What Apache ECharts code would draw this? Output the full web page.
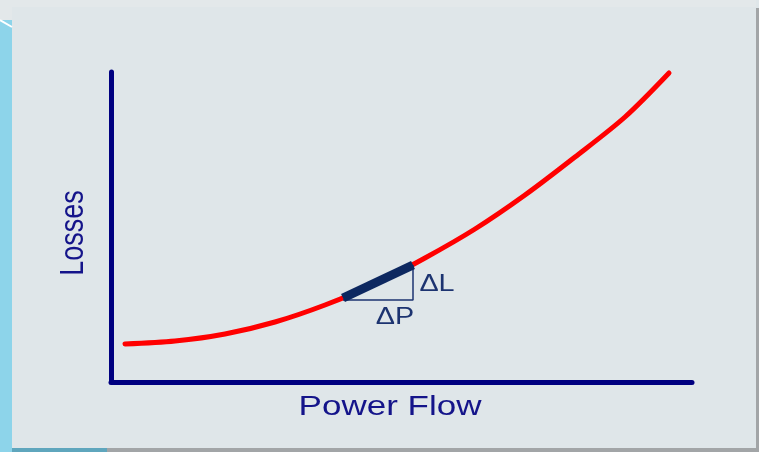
<!DOCTYPE html>
<html>
<head>
<meta charset="utf-8">
<script src="https://cdn.jsdelivr.net/npm/echarts@6/dist/echarts.min.js"></script>
<style>
  html, body { margin: 0; padding: 0; background: #dfe6e9; }
  #main { width: 759px; height: 452px; }
</style>
</head>
<body>
<div id="main"></div>
<script>
// curve (units: px from the axes origin)
const powerFlow = [14, 64, 114, 164, 214, 264, 314, 364, 414, 464, 514, 558];
const losses = [38, 41, 48, 60, 77, 98, 124, 153, 187, 225, 265, 309];
// highlighted slope piece + its triangle
const deltaP = [232, 302];
const deltaL = [84, 117];
const triBase = 82;

const navy = '#000080';
const textNavy = '#14148a';

const chart = echarts.init(document.getElementById('main'));

chart.setOption({
  backgroundColor: '#dfe6e9',
  animation: false,
  grid: { left: 111, top: 72, right: 67, bottom: 70 },
  xAxis: {
    type: 'value', min: 0, max: 581,
    axisLine: { lineStyle: { color: navy, width: 5, cap: 'round' } },
    axisTick: { show: false }, axisLabel: { show: false }, splitLine: { show: false }
  },
  yAxis: {
    type: 'value', min: 0, max: 310,
    axisLine: { show: true, lineStyle: { color: navy, width: 5, cap: 'round' } },
    axisTick: { show: false }, axisLabel: { show: false }, splitLine: { show: false }
  },
  series: [
    {
      // losses curve
      type: 'line', smooth: 0.3, symbol: 'none', z: 2,
      data: powerFlow.map((p, i) => [p, losses[i]]),
      lineStyle: { color: '#ff0000', width: 5, cap: 'round' }
    },
    {
      // triangle under the slope
      type: 'line', symbol: 'none', z: 3,
      data: [[deltaP[0], triBase], [deltaP[1], triBase], [deltaP[1], deltaL[1]]],
      lineStyle: { color: '#1c3370', width: 1.5 }
    },
    {
      // thick slope segment
      type: 'line', symbol: 'none', z: 4,
      data: [[deltaP[0], deltaL[0]], [deltaP[1], deltaL[1]]],
      lineStyle: { color: '#0d2860', width: 9 }
    }
  ],
  graphic: [
    // slide decoration
    { id: 'strip', type: 'rect', shape: { x: 0, y: 0, width: 12, height: 452 }, style: { fill: '#8dd4ea' }, z: -1 },
    { id: 'shadowL', type: 'rect', shape: { x: 12, y: 448, width: 95, height: 4 }, style: { fill: '#5fa6bd' }, z: -1 },
    { id: 'shadowB', type: 'rect', shape: { x: 107, y: 448, width: 652, height: 4 }, style: { fill: '#a2a5a7' }, z: -1 },
    { id: 'shadowR', type: 'rect', shape: { x: 756, y: 8, width: 3, height: 444 }, style: { fill: '#a2a5a7' }, z: -1 },
    { id: 'topband', type: 'rect', shape: { x: 12, y: 0, width: 744, height: 7 }, style: { fill: '#e3e8ea' }, z: -1 },
    { id: 'topwhite', type: 'rect', shape: { x: 0, y: 0, width: 12, height: 20 }, style: { fill: '#e3e8ea' }, z: -1 },
    { id: 'diag', type: 'line', shape: { x1: 0, y1: 20, x2: 12, y2: 27 }, style: { stroke: '#ffffff', lineWidth: 2 }, z: -1 },
    {
      id: 'xname', type: 'text', x: 390, y: 407, scaleX: 1.25,
      style: { text: 'Power Flow', font: '28px "Liberation Sans", Arial, sans-serif', fill: textNavy, align: 'center', verticalAlign: 'middle' }
    },
    {
      id: 'yname', type: 'text', x: 74, y: 233, rotation: Math.PI / 2, scaleY: 1.25,
      style: { text: 'Losses', font: '27px "Liberation Sans", Arial, sans-serif', fill: textNavy, align: 'center', verticalAlign: 'middle' }
    }
  ]
});

// delta labels placed next to the triangle
const pL = chart.convertToPixel({ gridIndex: 0 }, [deltaP[1], (triBase + deltaL[1]) / 2]);
const pP = chart.convertToPixel({ gridIndex: 0 }, [(deltaP[0] + deltaP[1]) / 2, triBase]);
chart.setOption({
  graphic: [
    {
      id: 'dl', type: 'text', x: pL[0] + 24, y: pL[1] + 2, scaleX: 1.25,
      style: { text: 'ΔL', font: '23px "Liberation Sans", Arial, sans-serif', fill: '#1c3370', align: 'center', verticalAlign: 'middle' }
    },
    {
      id: 'dp', type: 'text', x: pP[0] + 17, y: pP[1] + 18, scaleX: 1.25,
      style: { text: 'ΔP', font: '23px "Liberation Sans", Arial, sans-serif', fill: '#1c3370', align: 'center', verticalAlign: 'middle' }
    }
  ]
});
</script>
</body>
</html>
